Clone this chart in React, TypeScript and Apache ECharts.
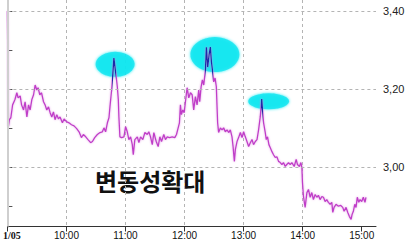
import React, { useEffect, useRef } from "react";
import * as echarts from "echarts";

// minutes after 09:00
const times = [
  0, 1, 2, 3.5, 5.3, 7.6, 9.6, 10.9, 13.0, 14.4, 16.4, 18.0, 19.8, 21.5, 23.1, 24.8, 26.6, 28.2, 29.9, 31.2,
  32.9, 34.7, 36.7, 38.3, 40.0, 41.8, 43.4, 45.1, 46.8, 48.4, 50.2, 51.9, 53.5, 55.9, 57.6, 60.0, 62.6, 65.1,
  67.7, 70.4, 72.8, 75.2, 77.2, 79.6, 81.9, 84.6, 86.4, 88.7, 91.4, 94.1, 96.5, 98.1, 99.8, 101.6, 103.2,
  104.2, 105.9, 107.2, 108.2, 109.3, 110.7, 111.7, 112.7, 113.3, 114.3, 116.0, 118.4, 120.1, 121.8, 123.4,
  125.2, 126.9, 127.9, 129.5, 132.0, 133.6, 135.3, 137.6, 139.7, 142.1, 143.7, 145.4, 147.2, 148.8, 151.2,
  153.2, 154.9, 156.6, 158.9, 160.6, 162.4, 164.7, 167.4, 170.1, 171.8, 173.5, 174.8, 175.8, 176.8, 178.2,
  179.6, 180.9, 182.6, 184.3, 186.0, 187.7, 189.3, 191.0, 192.7, 194.4, 195.4, 196.8, 198.1, 199.5, 201.2,
  202.2, 203.5, 204.9, 206.2, 207.3, 208.3, 209.6, 211.0, 212.3, 213.0, 213.6, 214.6, 216.4, 218.1, 219.7,
  221.4, 223.2, 224.8, 226.5, 228.2, 229.3, 230.6, 231.6, 233.3, 234.9, 236.7, 238.4, 240.0, 241.7, 243.4,
  245.1, 246.8, 248.5, 250.1, 251.9, 253.6, 255.2, 256.9, 258.4, 259.4, 260.3, 262.0, 263.0, 264.3, 265.7,
  267.1, 268.8, 270.4, 272.1, 273.8, 275.5, 277.2, 278.9, 280.5, 282.3, 283.9, 285.6, 287.3, 289.0, 291.4,
  293.4, 294.7, 296.7, 298.2, 299.2, 299.8, 300.8, 302.5, 304.3, 305.9, 307.6, 309.3, 310.9, 312.7, 314.4,
  316.0, 317.7, 319.5, 321.1, 322.8, 324.5, 326.1, 327.9, 329.6, 330.6, 331.9, 333.9, 336.3, 338.7, 340.7,
  342.1, 344.1, 345.8, 347.4, 349.2, 350.2, 351.5, 352.9, 354.2, 355.5, 357.0, 358.3, 360.0, 361.6, 363.3,
  364.3,
];

const prices = [
  3.4, 3.103, 3.121, 3.126, 3.159, 3.172, 3.19, 3.177, 3.182, 3.159, 3.146, 3.167, 3.128, 3.159, 3.146, 3.172,
  3.185, 3.21, 3.197, 3.203, 3.185, 3.19, 3.167, 3.159, 3.146, 3.154, 3.139, 3.128, 3.141, 3.121, 3.134,
  3.123, 3.128, 3.113, 3.123, 3.116, 3.113, 3.108, 3.105, 3.098, 3.09, 3.075, 3.083, 3.077, 3.07, 3.062,
  3.065, 3.075, 3.083, 3.088, 3.09, 3.1, 3.09, 3.113, 3.126, 3.154, 3.197, 3.241, 3.279, 3.256, 3.228,
  3.205, 3.172, 3.128, 3.077, 3.075, 3.077, 3.103, 3.09, 3.07, 3.077, 3.057, 3.031, 3.07, 3.077, 3.062,
  3.077, 3.07, 3.088, 3.083, 3.09, 3.077, 3.057, 3.088, 3.065, 3.052, 3.077, 3.065, 3.083, 3.07, 3.077,
  3.075, 3.077, 3.075, 3.083, 3.1, 3.113, 3.159, 3.134, 3.146, 3.139, 3.167, 3.203, 3.177, 3.19, 3.185,
  3.146, 3.18, 3.159, 3.197, 3.167, 3.205, 3.223, 3.21, 3.249, 3.307, 3.256, 3.287, 3.307, 3.269, 3.249,
  3.218, 3.228, 3.205, 3.154, 3.113, 3.088, 3.1, 3.095, 3.1, 3.09, 3.095, 3.088, 3.095, 3.077, 3.052,
  3.014, 3.044, 3.065, 3.075, 3.088, 3.075, 3.09, 3.077, 3.065, 3.052, 3.062, 3.07, 3.057, 3.065, 3.07,
  3.095, 3.128, 3.174, 3.139, 3.113, 3.088, 3.07, 3.077, 3.057, 3.049, 3.039, 3.031, 3.024, 3.026, 3.014,
  3.011, 3.006, 3.011, 3.001, 3.006, 3.011, 3.006, 3.011, 3.001, 3.019, 3.006, 3.001, 3.011, 2.998, 2.96,
  2.924, 2.896, 2.934, 2.942, 2.922, 2.934, 2.916, 2.929, 2.922, 2.927, 2.916, 2.924, 2.922, 2.911, 2.916,
  2.909, 2.904, 2.909, 2.883, 2.896, 2.904, 2.899, 2.901, 2.896, 2.886, 2.896, 2.883, 2.873, 2.865, 2.878,
  2.886, 2.904, 2.896, 2.922, 2.909, 2.916, 2.911, 2.922, 2.909, 2.922,
];

const xTickValues = [0, 60, 120, 180, 240, 300, 360];
const xTickLabels = ["1/05", "10:00", "11:00", "12:00", "13:00", "14:00", "15:00"];
const yTickValues = [2.9, 3.0, 3.1, 3.2, 3.3, 3.4];
const yLabelValues = [3.0, 3.2, 3.4];
const yTickLabels = ["3,00", "3,20", "3,40"];

// highlighted spikes (annotation centers)
const spikeTimes = [109.5, 210.8, 265.5];
const spikePrices = [3.263, 3.288, 3.168];
const annotationText = "변동성확대";

// styles
const ellipseSizes = [
  [39, 25],
  [49, 35],
  [41, 16],
];
const blueWindows = [
  [106.6, 110.6],
  [200.9, 208.7],
  [257.4, 259.3],
];

export default function App() {
  const ref = useRef<HTMLDivElement>(null);
  useEffect(() => {
    if (!ref.current) return;
    const chart = echarts.init(ref.current, null, { renderer: "svg" });
    const lineData = times.map((t, i) => [t, prices[i]]);
    const ellipseData = spikeTimes.map((t, i) => ({
      value: [t, spikePrices[i]],
      symbolSize: ellipseSizes[i],
    }));
    const option: any = {
      animation: false,
      backgroundColor: "#ffffff",
      grid: { left: 6.5, right: 33, top: 0, bottom: 20.5, containLabel: false },
      visualMap: {
        show: false,
        type: "piecewise",
        seriesIndex: 1,
        dimension: 0,
        pieces: blueWindows.map(([a, b]) => ({ gt: a, lte: b, color: "#1c2aa8" })),
        outOfRange: { color: "#c03ec8" },
      },
      xAxis: {
        type: "value",
        min: 0,
        max: 374.5,
        interval: 60,
        axisLine: { show: true, lineStyle: { color: "#333333", width: 1 } },
        axisTick: { show: true, length: 5, lineStyle: { color: "#333333" }, customValues: xTickValues },
        axisLabel: {
          customValues: xTickValues,
          fontFamily: "Liberation Sans",
          fontSize: 10,
          color: "#111111",
          margin: 4,
          formatter: (v: number) => {
            const i = xTickValues.indexOf(Math.round(v));
            if (i < 0) return "";
            return i === 0 ? "{f|" + xTickLabels[i] + "}" : xTickLabels[i];
          },
          rich: {
            f: {
              fontFamily: "Liberation Sans Narrow",
              fontWeight: "bold",
              fontSize: 10,
              color: "#111111",
              padding: [0, 0, 0, 9],
            },
          },
        },
        splitLine: {
          show: true,
          showMinLine: false,
          showMaxLine: false,
          lineStyle: { color: "#b4b4b4", type: [3, 3], width: 1 },
        },
      },
      yAxis: {
        type: "value",
        position: "right",
        min: 2.847,
        max: 3.428,
        axisLine: { show: true, lineStyle: { color: "#808080", width: 2 } },
        axisTick: { show: true, inside: false, length: 5, lineStyle: { color: "#555555" }, customValues: yTickValues },
        axisLabel: {
          customValues: yLabelValues,
          fontFamily: "Liberation Sans",
          fontSize: 11,
          color: "#222222",
          margin: 7,
          formatter: (v: number) => {
            const i = yLabelValues.findIndex((y) => Math.abs(y - v) < 1e-6);
            return i < 0 ? "" : yTickLabels[i];
          },
        },
        splitLine: { show: false },
      },
      series: [
        {
          type: "scatter",
          z: 1,
          silent: true,
          symbol: "circle",
          data: ellipseData,
          itemStyle: { color: "#10e6f0", shadowBlur: 3, shadowColor: "#10e6f0" },
          markLine: {
            silent: true,
            symbol: "none",
            label: { show: false },
            lineStyle: { color: "#b4b4b4", type: [3, 3], width: 1 },
            data: [
              ...yLabelValues.map((y) => ({ yAxis: y })),
              { xAxis: 0, lineStyle: { type: "solid", color: "#cfcfcf", width: 2 } },
            ],
          },
        },
        {
          type: "line",
          z: 3,
          silent: true,
          showSymbol: false,
          data: lineData,
          lineStyle: { width: 1.3, shadowColor: "rgba(220,130,225,0.7)", shadowBlur: 2 },
        },
      ],
      graphic: [
        {
          type: "text",
          left: 95,
          top: 168,
          style: {
            text: annotationText,
            fontFamily: "Noto Sans CJK KR",
            fontWeight: "bold",
            fontSize: 24,
            fill: "#111111",
          },
        },
      ],
    };
    chart.setOption(option);
    return () => chart.dispose();
  }, []);
  return (
    <div
      ref={ref}
      style={{ position: "absolute", left: 0, top: 0, width: 409, height: 247, background: "#fff" }}
    />
  );
}
